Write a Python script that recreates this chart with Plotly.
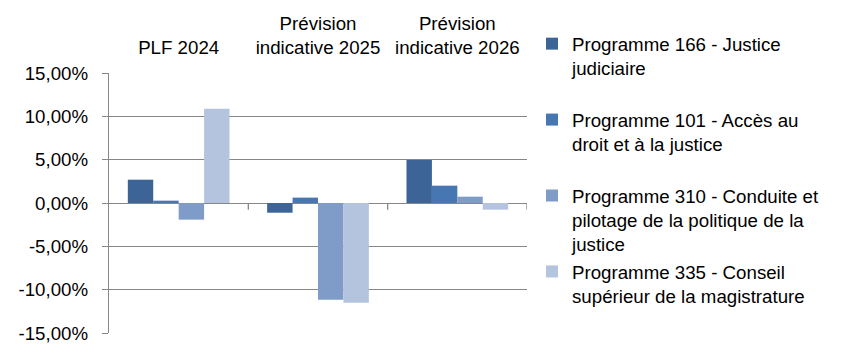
import plotly.graph_objects as go

categories = ["PLF 2024", "Prévision<br>indicative 2025", "Prévision<br>indicative 2026"]
series_names = [
    "Programme 166 - Justice<br>judiciaire<br>\u00a0",
    "Programme 101 - Accès au<br>droit et à la justice<br>\u00a0",
    "Programme 310 - Conduite et<br>pilotage de la politique de la<br>justice",
    "Programme 335 - Conseil<br>supérieur de la magistrature<br>\u00a0",
]
prog_166 = [2.69, -1.12, 4.96]
prog_101 = [0.27, 0.62, 2.00]
prog_310 = [-1.92, -11.15, 0.73]
prog_335 = [10.88, -11.50, -0.77]
series_values = [prog_166, prog_101, prog_310, prog_335]
colors = ["#3C6497", "#4777B3", "#7F9CC9", "#B4C4DF"]
tick_vals = [-15, -10, -5, 0, 5, 10, 15]
tick_text = ["-15,00%", "-10,00%", "-5,00%", "0,00%", "5,00%", "10,00%", "15,00%"]

FONT = "Liberation Sans, Arial, sans-serif"
FS = 18.7
GRID = "#878787"
W, H = 841, 357

fig = go.Figure()
for name, vals, col in zip(series_names, series_values, colors):
    fig.add_trace(go.Bar(x=list(range(len(categories))), y=vals, name=name,
                         marker=dict(color=col, line=dict(width=0))))

# category boundary tick marks below the zero line
for b in [0.5, 1.5, 2.5]:
    fig.add_shape(type="line", xref="x", yref="y", x0=b, x1=b, y0=0, y1=-0.77,
                  line=dict(color=GRID, width=1.3))

fig.update_layout(
    width=W, height=H,
    margin=dict(l=109, r=314, t=73, b=24, autoexpand=False),
    paper_bgcolor="white", plot_bgcolor="white",
    font=dict(family=FONT, size=FS, color="black"),
    barmode="group", bargap=0.27, bargroupgap=0,
    showlegend=True,
    legend=dict(x=532 / W, xref="container", xanchor="left",
                y=1 - 25 / H, yref="container", yanchor="top",
                valign="top", font=dict(size=FS, family=FONT),
                bgcolor="rgba(0,0,0,0)", tracegroupgap=0, maxheight=1),
    xaxis=dict(side="top", range=[-0.5, 2.5], tickmode="array",
               tickvals=list(range(len(categories))), ticktext=categories,
               showgrid=False, zeroline=False, showline=False, ticks="",
               automargin=False, ticklabelstandoff=14, tickfont=dict(size=FS)),
    yaxis=dict(range=[-15, 15], tickmode="array", tickvals=tick_vals, ticktext=tick_text,
               showgrid=True, gridcolor=GRID, gridwidth=1.3,
               zeroline=True, zerolinecolor=GRID, zerolinewidth=1.3,
               showline=True, linecolor=GRID, linewidth=1.3,
               ticks="outside", ticklen=6, tickcolor=GRID, tickwidth=1.3,
               automargin=False, ticklabelstandoff=10, tickfont=dict(size=FS)),
)

fig.write_html("out.html", config={"displayModeBar": False},
               post_script="document.body.style.margin='0';")
